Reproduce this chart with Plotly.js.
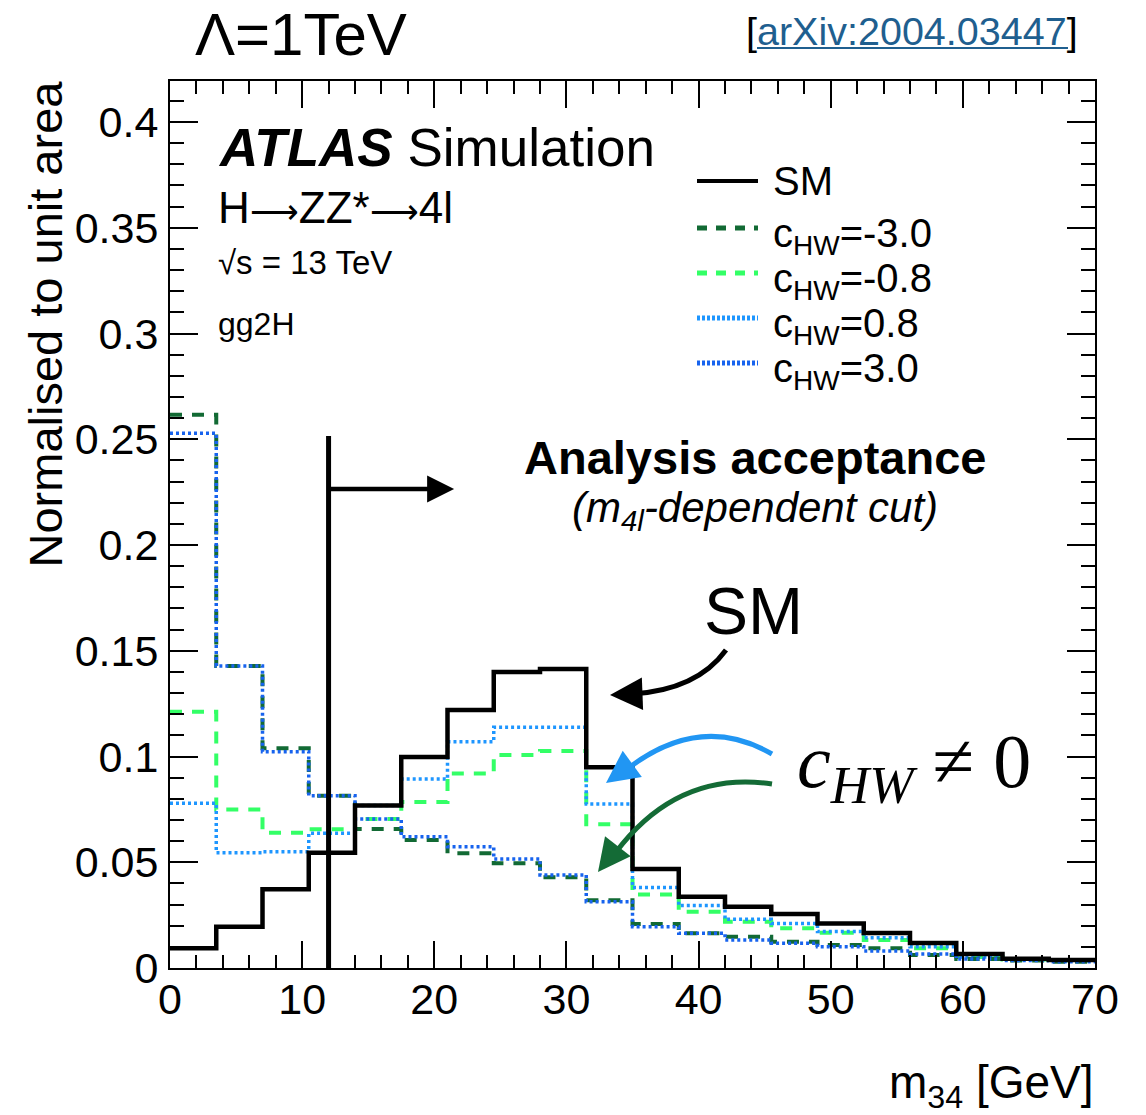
<!DOCTYPE html>
<html>
<head>
<meta charset="utf-8">
<script src="https://cdn.plot.ly/plotly-3.0.1.min.js"></script>
<style>
html,body{margin:0;padding:0;background:#fff;}
#chart{width:1146px;height:1115px;}
</style>
</head>
<body>
<div id="chart"></div>
<script>
// ---- data (bin edges in GeV, normalised bin contents) ----
const binEdges = [0,3.5,7,10.5,14,17.5,21,24.5,28,31.5,35,38.5,42,45.5,49,52.5,56,59.5,63,66.5,70];
const smVals    = [0.0093,0.0195,0.0372,0.0545,0.0768,0.0998,0.1220,0.1400,0.1414,0.0949,0.0468,0.0337,0.0290,0.0255,0.0210,0.0165,0.0118,0.0066,0.0044,0.0038];
const cHWm30    = [0.2616,0.1428,0.1039,0.0815,0.0657,0.0605,0.0542,0.0495,0.0429,0.0320,0.0208,0.0164,0.0148,0.0124,0.0109,0.0093,0.0061,0.0042,0.0035,0.0030];
const cHWm08    = [0.1212,0.0750,0.0640,0.0656,0.0704,0.0785,0.0920,0.1007,0.1026,0.0680,0.0348,0.0266,0.0219,0.0188,0.0167,0.0132,0.0093,0.0052,0.0040,0.0035];
const cHWp08    = [0.0779,0.0545,0.0550,0.0637,0.0768,0.0894,0.1070,0.1138,0.1138,0.0775,0.0381,0.0295,0.0230,0.0211,0.0172,0.0143,0.0101,0.0052,0.0040,0.0035];
const cHWp30    = [0.2528,0.1428,0.1023,0.0815,0.0704,0.0620,0.0573,0.0515,0.0440,0.0313,0.0195,0.0164,0.0132,0.0117,0.0101,0.0080,0.0066,0.0042,0.0035,0.0030];
const seriesNames = ['SM','c<sub>HW</sub>=-3.0','c<sub>HW</sub>=-0.8','c<sub>HW</sub>=0.8','c<sub>HW</sub>=3.0'];
const cutValue = 12;   // m34 cut position shown by vertical line
const xTicks = [0,10,20,30,40,50,60,70];

// ---- styles ----
const FONT = 'Liberation Sans, Arial, Helvetica, sans-serif';
const SERIF = 'Liberation Serif, Times New Roman, serif';
const styles = [
  {color:'#000000', width:4.5, dash:'solid'},
  {color:'#126a34', width:4,   dash:'12px,10px'},
  {color:'#33ff66', width:4,   dash:'12px,10px'},
  {color:'#1e96ff', width:3.5, dash:'3px,3px'},
  {color:'#1763ee', width:3.5, dash:'3px,3px'}
];
const allVals = [smVals,cHWm30,cHWm08,cHWp08,cHWp30];

// draw order: BSM first, SM on top
const order = [2,3,1,4,0];
const traces = order.map(i => ({
  type:'scatter', mode:'lines',
  x: binEdges,
  y: allVals[i].concat([allVals[i][allVals[i].length-1]]),
  line:{shape:'hv', color:styles[i].color, width:styles[i].width, dash:styles[i].dash},
  name: seriesNames[i], showlegend:false, hoverinfo:'skip'
}));

// pixel -> paper helpers for decoration placement
const L=170, R=1095, T=81, B=968;
const px = v => (v-L)/(R-L);
const py = v => (B-v)/(B-T);

const shapes = [];
const annotations = [];

// cut vertical line and acceptance arrow
shapes.push({type:'line', xref:'x', yref:'y', x0:cutValue, x1:cutValue, y0:0, y1:0.2515, line:{color:'#000', width:5}});
annotations.push({xref:'x', yref:'y', axref:'x', ayref:'y', x:21.5, y:0.2265, ax:cutValue, ay:0.2265,
  showarrow:true, arrowhead:2, arrowsize:1.2, arrowwidth:4.5, arrowcolor:'#000', standoff:0, text:''});

// custom legend
const legY = [181, 228, 273, 318, 363];
for (let i=0;i<5;i++){
  shapes.push({type:'line', xref:'paper', yref:'paper', x0:px(697), x1:px(758), y0:py(legY[i]), y1:py(legY[i]),
    line:{color:styles[i].color, width: i==0?4:5, dash: i==0?'solid':(i<3?'10px,9px':'3px,2px')}});
  annotations.push({xref:'paper', yref:'paper', x:px(771), y:py(legY[i] + (i==0?0:8)), xanchor:'left', yanchor:'middle',
    showarrow:false, text:seriesNames[i], font:{family:FONT, size:40, color:'#000'}});
}

// text labels
annotations.push({xref:'paper', yref:'paper', x:px(216), y:py(148), xanchor:'left', yanchor:'middle', showarrow:false,
  text:'<b><i>ATLAS</i></b> Simulation', font:{family:FONT, size:53, color:'#000'}});
annotations.push({xref:'paper', yref:'paper', x:px(216), y:py(207), xanchor:'left', yanchor:'middle', showarrow:false,
  text:'H<span style="font-size:34px">⟶</span>ZZ*<span style="font-size:34px">⟶</span>4l', font:{family:FONT, size:44, color:'#000'}});
annotations.push({xref:'paper', yref:'paper', x:px(216), y:py(262), xanchor:'left', yanchor:'middle', showarrow:false,
  text:'√s = 13 TeV', font:{family:FONT, size:33, color:'#000'}});
annotations.push({xref:'paper', yref:'paper', x:px(216), y:py(324), xanchor:'left', yanchor:'middle', showarrow:false,
  text:'gg2H', font:{family:FONT, size:32, color:'#000'}});
annotations.push({xref:'paper', yref:'paper', x:px(755), y:py(457), xanchor:'center', yanchor:'middle', showarrow:false,
  text:'<b>Analysis acceptance</b>', font:{family:FONT, size:47, color:'#000'}});
annotations.push({xref:'paper', yref:'paper', x:px(755), y:py(511), xanchor:'center', yanchor:'middle', showarrow:false,
  text:'<i>(m<sub>4l</sub>-dependent cut)</i>', font:{family:FONT, size:42, color:'#000'}});
annotations.push({xref:'paper', yref:'paper', x:px(753), y:py(611), xanchor:'center', yanchor:'middle', showarrow:false,
  text:'SM', font:{family:FONT, size:66, color:'#000'}});
annotations.push({xref:'paper', yref:'paper', x:px(795), y:py(767), xanchor:'left', yanchor:'middle', showarrow:false,
  text:'<i>c<sub>HW</sub></i> ≠ 0', font:{family:SERIF, size:76, color:'#000'}});

// curved arrows
const P = (x,y) => px(x).toFixed(5)+','+py(y).toFixed(5);
shapes.push({type:'path', xref:'paper', yref:'paper', path:'M'+P(726,650)+' Q'+P(697,690)+' '+P(632,694), line:{color:'#000', width:5}});
annotations.push({xref:'paper', yref:'paper', x:px(610), y:py(695), ax:26, ay:-1, showarrow:true, arrowhead:2, arrowsize:1.3, arrowwidth:5, arrowcolor:'#000', standoff:0, text:''});
shapes.push({type:'path', xref:'paper', yref:'paper', path:'M'+P(772,754)+' Q'+P(700,712)+' '+P(626,770), line:{color:'#2196f3', width:5}});
annotations.push({xref:'paper', yref:'paper', x:px(606), y:py(783), ax:22, ay:-16, showarrow:true, arrowhead:2, arrowsize:1.3, arrowwidth:5, arrowcolor:'#2196f3', standoff:0, text:''});
shapes.push({type:'path', xref:'paper', yref:'paper', path:'M'+P(772,784)+' Q'+P(678,770)+' '+P(616,852), line:{color:'#146b36', width:5}});
annotations.push({xref:'paper', yref:'paper', x:px(598), y:py(872), ax:17, ay:-22, showarrow:true, arrowhead:2, arrowsize:1.3, arrowwidth:5, arrowcolor:'#146b36', standoff:0, text:''});

// headers
annotations.push({xref:'paper', yref:'paper', x:px(301), y:py(35), xanchor:'center', yanchor:'middle', showarrow:false,
  text:'Λ=1TeV', font:{family:FONT, size:60, color:'#000'}});
annotations.push({xref:'paper', yref:'paper', x:px(1080), y:py(31), xanchor:'right', yanchor:'middle', showarrow:false,
  text:'[<span style="color:#1f5f8f">arXiv:2004.03447</span>]', font:{family:FONT, size:39.5, color:'#000'}});
shapes.push({type:'line', xref:'paper', yref:'paper', x0:px(757), x1:px(1068), y0:py(48), y1:py(48), line:{color:'#1f5f8f', width:2}});

// axis titles
annotations.push({xref:'paper', yref:'paper', x:px(45), y:py(79), xanchor:'center', yanchor:'top', textangle:-90, showarrow:false,
  text:'Normalised to unit area', font:{family:FONT, size:47, color:'#000'}});
annotations.push({xref:'paper', yref:'paper', x:px(1096), y:py(1085), xanchor:'right', yanchor:'middle', showarrow:false,
  text:'m<sub>34</sub> [GeV]', font:{family:FONT, size:46, color:'#000'}});

const layout = {
  width:1146, height:1115,
  margin:{l:L, r:1146-R, t:T, b:1115-B, pad:0},
  paper_bgcolor:'#fff', plot_bgcolor:'#fff',
  showlegend:false,
  font:{family:FONT, color:'#000'},
  xaxis:{range:[0,70], tickvals:xTicks, ticks:'inside', ticklen:27, tickwidth:2, tickcolor:'#000',
    showline:true, linecolor:'#000', linewidth:2, mirror:'ticks', showgrid:false, zeroline:false,
    minor:{dtick:2, ticks:'inside', ticklen:13, tickwidth:2, tickcolor:'#000', showgrid:false},
    tickfont:{family:FONT, size:43, color:'#000'}, ticklabelstandoff:-8},
  yaxis:{range:[0,0.4194], dtick:0.05, tick0:0, ticks:'inside', ticklen:28, tickwidth:2, tickcolor:'#000',
    showline:true, linecolor:'#000', linewidth:2, mirror:'ticks', showgrid:false, zeroline:false,
    minor:{dtick:0.01, ticks:'inside', ticklen:14, tickwidth:2, tickcolor:'#000', showgrid:false},
    tickfont:{family:FONT, size:43, color:'#000'}, ticklabelstandoff:1},
  shapes:shapes, annotations:annotations
};

Plotly.newPlot('chart', traces, layout, {staticPlot:true, displayModeBar:false});
</script>
</body>
</html>
